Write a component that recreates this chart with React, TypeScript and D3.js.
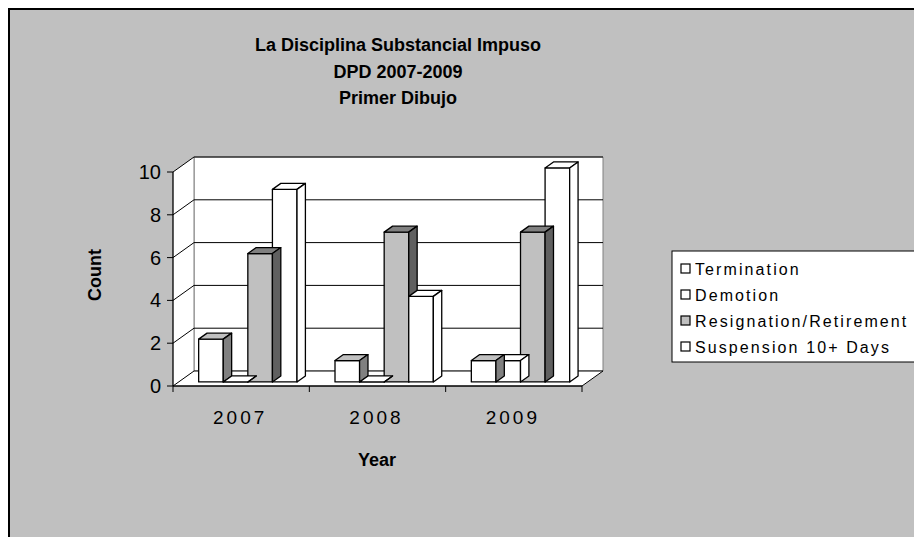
import * as d3 from "d3";
import React from "react";

// chart data
const years = ["2007", "2008", "2009"];
const seriesNames = ["Termination", "Demotion", "Resignation/Retirement", "Suspension 10+ Days"];
const termination = [2, 1, 1];
const demotion = [0, 0, 1];
const resignation = [6, 7, 7];
const suspension = [9, 4, 10];
const yTicks = [0, 2, 4, 6, 8, 10];
const titleLines = ["La Disciplina Substancial Impuso", "DPD 2007-2009", "Primer Dibujo"];

const seriesValues = [termination, demotion, resignation, suspension];
// face colours per series: front, top, side
const faceColors = [
  { front: "#ffffff", top: "#c0c0c0", side: "#808080" },
  { front: "#ffffff", top: "#ffffff", side: "#ffffff" },
  { front: "#c0c0c0", top: "#808080", side: "#606060" },
  { front: "#ffffff", top: "#ffffff", side: "#ffffff" },
];
const legendFill = ["#ffffff", "#ffffff", "#c0c0c0", "#ffffff"];

const W = 914;
const H = 537;
const DX = 21; // depth shift
const DY = 15;
const Z0 = 0.27;
const Z1 = 0.67;

export default function App() {
  const x0 = d3.scaleBand().domain(years).range([173, 582]);
  const bw = x0.bandwidth();
  const x1 = d3.scaleBand().domain(seriesNames).range([20, bw - 18]);
  const y = d3.scaleLinear().domain([0, 10]).range([386, 172]);

  const P = (x: number, v: number, z: number) => [x + z * DX, y(v) - z * DY];
  const poly = (pts: number[][]) => "M" + pts.map((p) => p.join(",")).join("L") + "Z";

  const bars: any[] = [];
  years.forEach((yr, ci) => {
    const items = seriesNames.map((s, si) => ({ s, si, v: seriesValues[si][ci] }));
    // taller bars painted first, like the original rendering
    items.sort((a, b) => b.v - a.v || b.si - a.si);
    items.forEach((d) => {
      const xl = x0(yr)! + x1(d.s)!;
      const xr = xl + x1.bandwidth();
      const c = faceColors[d.si];
      bars.push(
        <g key={yr + d.s} stroke="#000" strokeWidth={1.3} strokeLinejoin="round">
          <path d={poly([P(xl, 0, Z0), P(xr, 0, Z0), P(xr, d.v, Z0), P(xl, d.v, Z0)])} fill={c.front} />
          <path d={poly([P(xl, d.v, Z0), P(xr, d.v, Z0), P(xr, d.v, Z1), P(xl, d.v, Z1)])} fill={c.top} />
          <path d={poly([P(xr, 0, Z0), P(xr, 0, Z1), P(xr, d.v, Z1), P(xr, d.v, Z0)])} fill={c.side} />
        </g>
      );
    });
  });

  const [xs, xe] = x0.range();
  const font = "Liberation Sans, Arial, sans-serif";

  return (
    <div style={{ position: "absolute", left: 0, top: 0 }}>
      <svg width={W} height={H} style={{ display: "block" }} fontFamily={font}>
        <rect x={0} y={0} width={W} height={H} fill="#fff" />
        <rect x={9} y={9} width={W + 20} height={H + 20} fill="#c0c0c0" stroke="#000" strokeWidth={2} />

        {titleLines.map((t, i) => (
          <text key={t} x={398} y={51 + i * 26.5} textAnchor="middle" fontWeight="bold" fontSize={18}>
            {t}
          </text>
        ))}

        {/* walls */}
        <path d={poly([P(xs, 0, 1), P(xe, 0, 1), P(xe, 10, 1), P(xs, 10, 1)])} fill="#fff" stroke="#808080" />
        <path d={poly([P(xs, 0, 0), P(xs, 0, 1), P(xs, 10, 1), P(xs, 10, 0)])} fill="#fff" stroke="none" />
        <path d={poly([P(xs, 0, 0), P(xs, 0, 1), P(xe, 0, 1), P(xe, 0, 0)])} fill="#fff" stroke="none" />
        <line x1={P(xs, 0, 1)[0]} y1={P(xs, 0, 1)[1]} x2={P(xs, 10, 1)[0]} y2={P(xs, 10, 1)[1]} stroke="#808080" />
        {yTicks.map((t) => (
          <g key={t} stroke="#000" strokeWidth={1}>
            <line x1={P(xs, t, 1)[0]} y1={P(xs, t, 1)[1]} x2={P(xe, t, 1)[0]} y2={P(xe, t, 1)[1]} />
            <line x1={P(xs, t, 0)[0]} y1={P(xs, t, 0)[1]} x2={P(xs, t, 1)[0]} y2={P(xs, t, 1)[1]} />
            <line x1={xs - 6} y1={y(t)} x2={xs} y2={y(t)} />
          </g>
        ))}
        <line x1={P(xe, 0, 0)[0]} y1={P(xe, 0, 0)[1]} x2={P(xe, 0, 1)[0]} y2={P(xe, 0, 1)[1]} stroke="#000" />

        {bars}

        {/* axes */}
        <line x1={xs} y1={y(0)} x2={xs} y2={y(10)} stroke="#000" strokeWidth={1.3} />
        <line x1={xs} y1={y(0)} x2={xe} y2={y(0)} stroke="#000" strokeWidth={1.3} />
        {[...years.map((yr) => x0(yr)!), xe].map((xv, i) => (
          <line key={i} x1={xv} y1={y(0)} x2={xv} y2={y(0) + 6} stroke="#000" />
        ))}
        {yTicks.map((t) => (
          <text key={t} x={xs - 12} y={y(t) + 7} textAnchor="end" fontSize={20} fill="#000">
            {t}
          </text>
        ))}
        {years.map((yr) => (
          <text key={yr} x={x0(yr)! + bw / 2 - 1} y={424} textAnchor="middle" fontSize={19} letterSpacing={3}>
            {yr}
          </text>
        ))}
        <text x={377} y={466} textAnchor="middle" fontWeight="bold" fontSize={18}>
          Year
        </text>
        <text transform="translate(101,275) rotate(-90)" textAnchor="middle" fontWeight="bold" fontSize={18}>
          Count
        </text>

        {/* legend */}
        <rect x={672} y={251} width={300} height={111} fill="#fff" stroke="#000" strokeWidth={1} />
        {seriesNames.map((s, i) => (
          <g key={s} transform={`translate(0,${269 + i * 26})`}>
            <rect x={681} y={-5} width={9} height={9} fill={legendFill[i]} stroke="#000" strokeWidth={1.2} />
            <text x={695} y={6} fontSize={16} letterSpacing={2.1}>
              {s}
            </text>
          </g>
        ))}
      </svg>
    </div>
  );
}
